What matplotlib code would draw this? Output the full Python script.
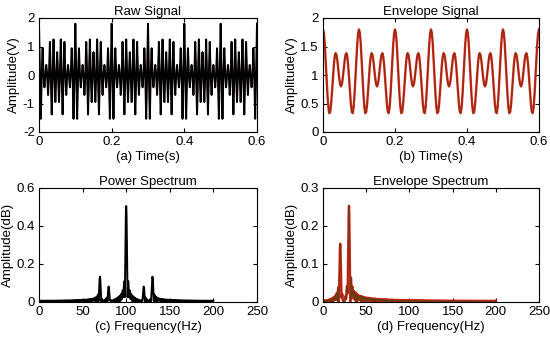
"""Raw / envelope signal of an AM test tone and their spectra (2x2 panel)."""
import matplotlib
matplotlib.use("Agg")
import matplotlib.pyplot as plt
import numpy as np

# sampling: 0.6 s of signal, spectra drawn up to 200 Hz
FS = 400.0
DURATION = 0.6
NFFT = 1024

# carrier and side-band tones
tone_freqs = [70.0, 80.0, 100.0, 120.0, 130.0]
tone_amps = [0.25, 0.15, 1.0, 0.15, 0.25]

env_dc = 1.0
env_freqs = [20.0, 30.0]
env_amps = [0.3, 0.5]

time_ticks = [0, 0.2, 0.4, 0.6]
freq_ticks = [0, 50, 100, 150, 200, 250]
raw_yticks = [-2, -1, 0, 1, 2]
env_yticks = [0, 0.5, 1, 1.5, 2]
pow_yticks = [0, 0.2, 0.4, 0.6]
envspec_yticks = [0, 0.1, 0.2, 0.3]

plt.rcParams["font.family"] = ["Liberation Sans", "DejaVu Sans"]
plt.rcParams["font.size"] = 9


def _spectrum(x):
    spec = np.abs(np.fft.rfft(x, NFFT)) / len(x)
    freq = np.fft.rfftfreq(NFFT, 1.0 / FS)
    return freq, spec


def _style(ax, xlim, ylim, xticks, yticks):
    ax.set_xlim(*xlim)
    ax.set_ylim(*ylim)
    ax.set_xticks(xticks)
    ax.set_yticks(yticks)
    ax.set_xticklabels([f"{v:g}" for v in xticks])
    ax.set_yticklabels([f"{v:g}" for v in yticks])
    ax.tick_params(direction="in", top=True, right=True, length=3,
                   labelsize=9.5, pad=3)
    for s in ax.spines.values():
        s.set_linewidth(0.8)


t = np.arange(0, DURATION + 1e-9, 1.0 / FS)
raw = np.zeros_like(t)
for f, a in zip(tone_freqs, tone_amps):
    raw += a * np.cos(2 * np.pi * f * t)
env = np.full_like(t, env_dc)
for f, a in zip(env_freqs, env_amps):
    env += a * np.cos(2 * np.pi * f * t)

f_raw, p_raw = _spectrum(raw)
f_env, p_env = _spectrum(env - env.mean())

fig = plt.figure(figsize=(5.5, 3.41), dpi=100)
W, H = 550.0, 341.0


def _axes(l, r, top, bot):
    return fig.add_axes([l / W, 1 - bot / H, (r - l) / W, (bot - top) / H])


ax1 = _axes(39, 257, 18, 132)
ax2 = _axes(323, 539, 18, 132)
ax3 = _axes(39, 257, 188, 302)
ax4 = _axes(323, 539, 188, 302)

ax1.plot(t, raw, color="#d0103a", lw=0.8)
ax1.plot(t, raw, color="black", lw=1.4)
_style(ax1, (0, 0.6), (-2, 2), time_ticks, raw_yticks)
ax1.set_title("Raw Signal", fontsize=9.5, pad=2)
ax1.set_xlabel("(a) Time(s)", fontsize=9.5, labelpad=2)
ax1.set_ylabel("Amplitude(V)", fontsize=9.5, labelpad=2)

ax2.plot(t, env, color="#e0201a", lw=1.7)
ax2.plot(t, env, color="#6b3a10", lw=0.6)
_style(ax2, (0, 0.6), (0, 2), time_ticks, env_yticks)
ax2.set_title("Envelope Signal", fontsize=9.5, pad=2)
ax2.set_xlabel("(b) Time(s)", fontsize=9.5, labelpad=2)
ax2.set_ylabel("Amplitude(V)", fontsize=9.5, labelpad=2)

ax3.plot(f_raw, p_raw, color="black", lw=1.4)
_style(ax3, (0, 250), (0, 0.6), freq_ticks, pow_yticks)
ax3.set_title("Power Spectrum", fontsize=9.5, pad=2)
ax3.set_xlabel("(c) Frequency(Hz)", fontsize=9.5, labelpad=2)
ax3.set_ylabel("Amplitude(dB)", fontsize=9.5, labelpad=2)

ax4.plot(f_env, p_env, color="#e0201a", lw=1.7)
ax4.plot(f_env, p_env, color="#6b3a10", lw=0.6)
_style(ax4, (0, 250), (0, 0.3), freq_ticks, envspec_yticks)
ax4.set_title("Envelope Spectrum", fontsize=9.5, pad=2)
ax4.set_xlabel("(d) Frequency(Hz)", fontsize=9.5, labelpad=2)
ax4.set_ylabel("Amplitude(dB)", fontsize=9.5, labelpad=2)

fig.savefig("out.png", dpi=100)
